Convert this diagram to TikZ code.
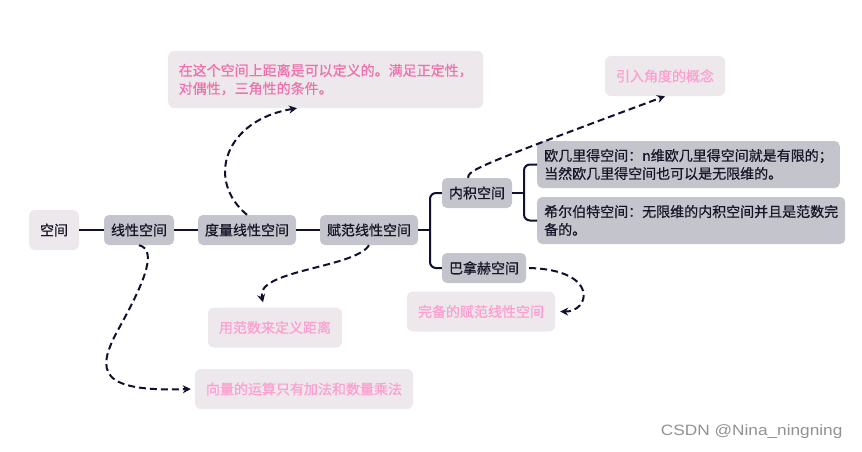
\documentclass[tikz,border=0pt]{standalone}
\usepackage{fontspec}
\setmainfont[FakeBold=0.6]{Noto Sans CJK SC}
\newfontfamily\wmfont[FakeStretch=1.15]{Liberation Sans}
\usepackage{tikz}
\usetikzlibrary{arrows.meta}
\usepackage{xcolor}
\definecolor{mapline}{RGB}{16,16,48}
\definecolor{inkdark}{RGB}{22,22,40}
\definecolor{topicgray}{RGB}{196,196,205}
\definecolor{notefill}{RGB}{237,232,236}
\definecolor{notepink}{RGB}{255,158,208}
\definecolor{notedeep}{RGB}{240,112,172}
\definecolor{wmgray}{RGB}{145,145,145}

\begin{document}
\begin{tikzpicture}[x=1pt, y=-1pt,
    font=\fontsize{14}{18}\selectfont,
    topic/.style={rectangle, fill=topicgray, text=inkdark, rounded corners=5pt,
        inner xsep=7pt, inner ysep=0pt, minimum height=30pt},
    root/.style={rectangle, fill=notefill, text=inkdark, rounded corners=6pt,
        inner xsep=11pt, inner ysep=0pt, minimum height=40pt},
    detail/.style={topic, align=left, minimum height=47pt},
    note/.style={rectangle, fill=notefill, text=notepink, rounded corners=6pt,
        inner xsep=11pt, inner ysep=0pt, minimum height=40pt},
    branch/.style={mapline, line width=2pt, rounded corners=6pt},
    link/.style={-{Stealth[length=8pt,width=8pt]}, mapline, line width=2pt,
        dash pattern=on 7pt off 4pt}
]
\useasboundingbox (0,0) rectangle (862,451);

\node[root] (space) at (54,230) {空间};
\node[topic] (linear) at (139,230) {线性空间};
\node[topic] (metric) at (247,230) {度量线性空间};
\node[topic] (normed) at (369,230) {赋范线性空间};
\node[topic] (inner) at (477,193) {内积空间};
\node[topic] (banach) at (484,268) {巴拿赫空间};
\node[detail, anchor=west] (euclid) at (537,164.5) {欧几里得空间：n维欧几里得空间就是有限的；\\当然欧几里得空间也可以是无限维的。};
\node[detail, anchor=west] (hilbert) at (537,220.5) {希尔伯特空间：无限维的内积空间并且是范数完\\备的。};
\node[note, anchor=west, text=notedeep, inner xsep=10.5pt, minimum height=57pt, align=left] (metricnote) at (168,79.5) {在这个空间上距离是可以定义的。满足正定性，\\对偶性，三角性的条件。};
\node[note] (anglenote) at (665,76) {引入角度的概念};
\node[note] (normnote) at (275,327.5) {用范数来定义距离};
\node[note] (vecnote) at (304,389) {向量的运算只有加法和数量乘法};
\node[note] (banachnote) at (481,311.5) {完备的赋范线性空间};
\node[text=wmgray, font=\wmfont\fontsize{15}{17}\selectfont, anchor=east] (wm) at (846,432) {CSDN @Nina\_ningning};

% forks of the tree
\coordinate (fork1) at (430,230);
\coordinate (fork2) at (524,193);

\draw[branch] (space) -- (linear);
\draw[branch] (linear) -- (metric);
\draw[branch] (metric) -- (normed);
\draw[branch] (normed.east) -- (fork1);
\draw[branch] (inner.west) -| (fork1) |- (banach.west);
\draw[branch] (inner.east) -- (fork2);
\draw[branch] (euclid.west) -| (fork2) |- (hilbert.west);

% dashed notes
\draw[link] (metric.north) .. controls (205,180) and (225,120) .. (metricnote.225);
\draw[link] (normed.south) .. controls (355,268) and (255,270) .. ([xshift=-12pt,yshift=5pt]normnote.north);
\draw[link] (linear.south) .. controls (160,250) and (140,290) .. (118,330)
    .. controls (95,372) and (100,392) .. ([xshift=-4pt]vecnote.west);
\draw[link] ([xshift=-9pt]inner.north) .. controls (468,170) and (480,165) .. (anglenote.south);
\draw[link] ([xshift=3pt]banach.east) .. controls (600,270) and (590,312) .. ([xshift=5pt]banachnote.east);

\end{tikzpicture}
\end{document}
